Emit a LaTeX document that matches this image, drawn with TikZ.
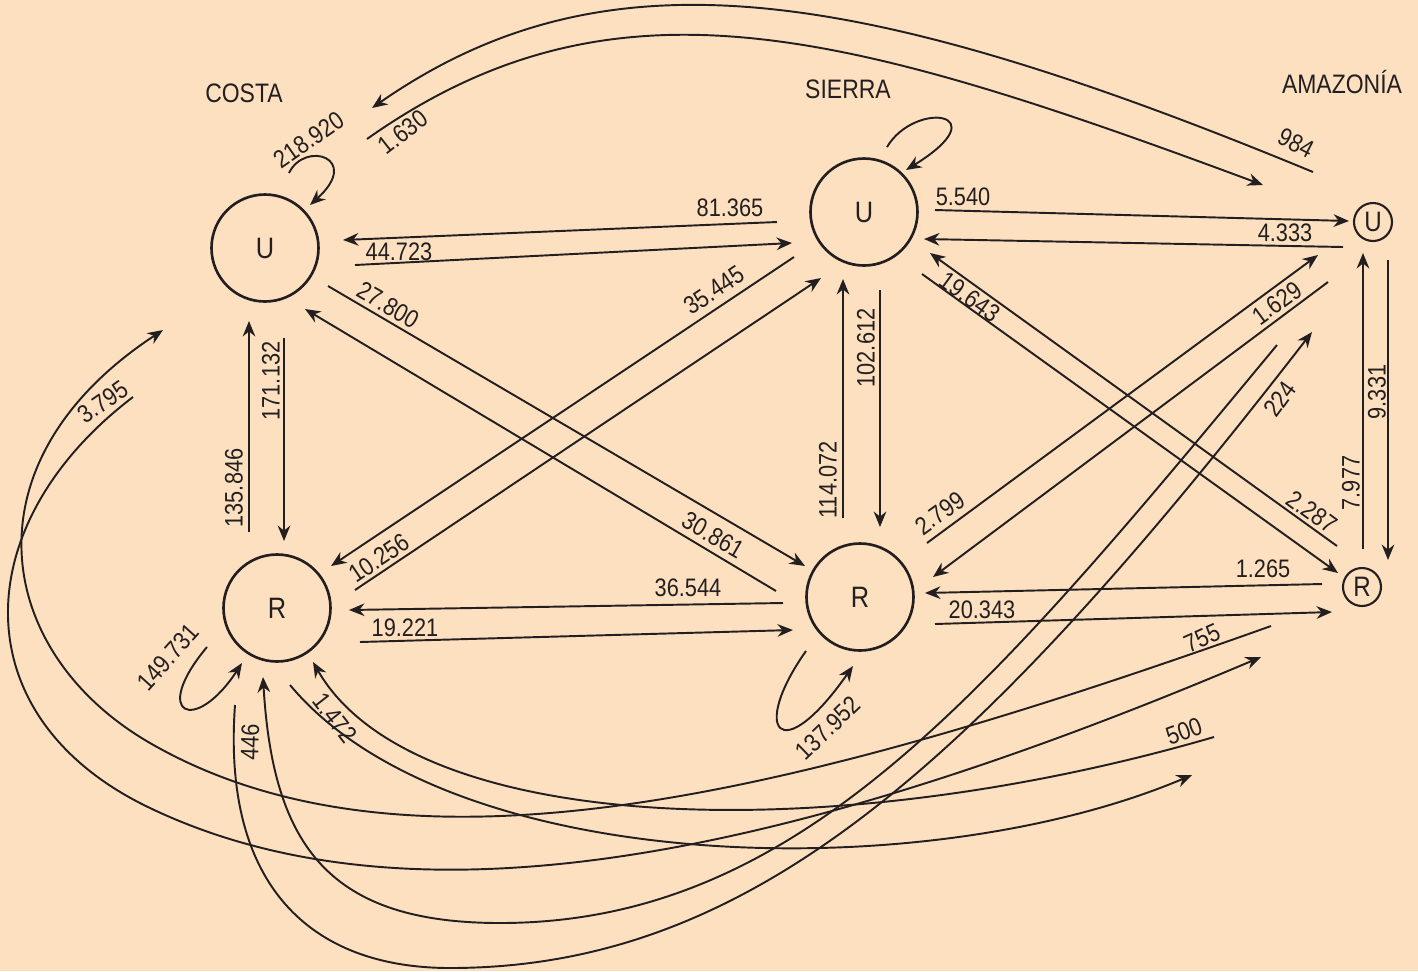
\documentclass[tikz,border=0pt]{standalone}
\usepackage{fontspec}
\setmainfont{Liberation Sans}[FakeStretch=0.86]
\usetikzlibrary{calc,arrows.meta}
\definecolor{paper}{RGB}{253,224,192}
\definecolor{ink}{RGB}{35,31,32}
\tikzset{
	zone/.style={circle, draw=ink, line width=0.75pt, minimum size=10.7mm, inner sep=0pt, text=ink, font=\fontsize{8.4}{9}\selectfont},
	smallzone/.style={circle, draw=ink, line width=0.6pt, minimum size=3.8mm, inner sep=0pt, text=ink, font=\fontsize{8}{9}\selectfont},
	flow/.style={draw=ink, line width=0.55pt, -{Stealth[length=4.4pt,width=3.6pt]}},
	num/.style={text=ink, inner sep=0pt, font=\fontsize{7.2}{8}\selectfont},
	region/.style={text=ink, inner sep=0pt, font=\fontsize{7.6}{9}\selectfont}
}

\begin{document}
\begin{tikzpicture}[x=0.1mm, y=-0.1mm]
			%%%%% START %%%%%
			\useasboundingbox (0,0) rectangle (1418,971);
			\fill[paper] (0,0) rectangle (1418,971);
			
			\node[region] (costa) at (244,93) {COSTA};
			\node[region] (sierra) at (848,89) {SIERRA};
			\node[region] (amazonia) at (1342,82) {AMAZONÍA};
			
			\node[zone] (cu) at (265,248) {U};
			\node[zone] (cr) at (277,608) {R};
			\node[zone] (su) at (864,212) {U};
			\node[zone] (sr) at (860,597) {R};
			\node[smallzone] (au) at (1373,222) {U};
			\node[smallzone] (ar) at (1362,587) {R};
			
			% costa - sierra
			\draw[flow] ($(su)+(-87,10)$) -- ($(cu)+(78,-8)$);
			\draw[flow] ($(cu)+(90,17)$) -- ($(su)+(-72,31)$);
			\draw[flow] ($(cu)+(19,90)$) -- ($(cr)+(7,-67)$);
			\draw[flow] ($(cr)+(-28,-76)$) -- ($(cu)+(-16,73)$);
			\draw[flow] ($(cu)+(63,38)$) -- ($(sr)+(-55,-31)$);
			\draw[flow] ($(sr)+(-84,-6)$) -- ($(cu)+(40,61)$);
			\draw[flow] ($(su)+(-70,45)$) -- ($(cr)+(54,-42)$);
			\draw[flow] ($(cr)+(78,-18)$) -- ($(su)+(-43,66)$);
			\draw[flow] ($(su)+(16,78)$) -- ($(sr)+(20,-70)$);
			\draw[flow] ($(sr)+(-17,-79)$) -- ($(su)+(-21,67)$);
			\draw[flow] ($(sr)+(-77,6)$) -- ($(cr)+(72,2)$);
			\draw[flow] ($(cr)+(83,34)$) -- ($(sr)+(-67,33)$);
			
			% loops
			\draw[flow] ($(cu)+(24,-75)$) .. controls ($(cu)+(40,-108)$) and ($(cu)+(97,-90)$) .. ($(cu)+(45,-43)$);
			\draw[flow] ($(cr)+(-70,39)$) .. controls ($(cr)+(-127,107)$) and ($(cr)+(-82,127)$) .. ($(cr)+(-35,55)$);
			\draw[flow] ($(su)+(23,-65)$) .. controls ($(su)+(51,-112)$) and ($(su)+(136,-100)$) .. ($(su)+(42,-42)$);
			\draw[flow] ($(sr)+(-54,54)$) .. controls ($(sr)+(-110,133)$) and ($(sr)+(-80,173)$) .. ($(sr)+(-7,69)$);
			
			% sierra - amazonia
			\draw[flow] ($(su)+(71,-2)$) -- ($(au)+(-24,-1)$);
			\draw[flow] ($(au)+(-30,25)$) -- ($(su)+(60,27)$);
			\draw[flow] ($(au)+(15,38)$) -- ($(ar)+(26,-27)$);
			\draw[flow] ($(ar)+(1,-38)$) -- ($(au)+(-10,31)$);
			\draw[flow] ($(ar)+(-25,-41)$) -- ($(su)+(66,41)$);
			\draw[flow] ($(su)+(58,62)$) -- ($(ar)+(-24,-14)$);
			\draw[flow] ($(sr)+(67,-54)$) -- ($(au)+(-55,33)$);
			\draw[flow] ($(au)+(-45,60)$) -- ($(sr)+(73,-20)$);
			\draw[flow] ($(ar)+(-40,-3)$) -- ($(sr)+(65,-4)$);
			\draw[flow] ($(sr)+(75,27)$) -- ($(ar)+(-30,25)$);
			
			% costa - amazonia
			\draw[flow] ($(au)+(-60,-50)$) .. controls (851,-19) and (602,-52) .. ($(cu)+(107,-140)$);
			\draw[flow] ($(cu)+(102,-109)$) .. controls (612,-34) and (841,28) .. ($(au)+(-110,-37)$);
			\draw[flow] ($(ar)+(-91,39)$) .. controls (800,794) and (410,893) .. (150,743)
				.. controls (-6,653) and (-38,462) .. ($(cu)+(-102,82)$);
			\draw[flow] ($(cu)+(-132,149)$) .. controls (-34,524) and (-39,718) .. (150,808)
				.. controls (420,937) and (801,852) .. ($(ar)+(-101,70)$);
			\draw[flow] ($(ar)+(-148,150)$) .. controls (830,849) and (413,836) .. ($(cr)+(36,54)$);
			\draw[flow] ($(cr)+(13,77)$) .. controls (450,877) and (925,888) .. ($(ar)+(-170,188)$);
			\draw[flow] ($(au)+(-96,123)$) .. controls (990,691) and (800,923) .. (500,923)
				.. controls (330,923) and (273,847) .. ($(cr)+(-14,69)$);
			\draw[flow] ($(cr)+(-42,97)$) .. controls (222,885) and (310,968) .. (450,968)
				.. controls (750,968) and (975,767) .. ($(au)+(-61,110)$);
			
			% numbers
			\node[num] (n81365) at (730,208) {81.365};
			\node[num] (n44723) at (399,252) {44.723};
			\node[num, rotate=90] (n171132) at (271,381) {171.132};
			\node[num, rotate=90] (n135846) at (234,488) {135.846};
			\node[num, rotate=-30] (n27800) at (388,305) {27.800};
			\node[num, rotate=-30] (n30861) at (713,535) {30.861};
			\node[num, rotate=34] (n35445) at (714,290) {35.445};
			\node[num, rotate=34] (n10256) at (379,558) {10.256};
			\node[num, rotate=90] (n102612) at (866,348) {102.612};
			\node[num, rotate=90] (n114072) at (828,480) {114.072};
			\node[num] (n36544) at (688,588) {36.544};
			\node[num] (n19221) at (405,628) {19.221};
			\node[num, rotate=44] (n137952) at (828,728) {137.952};
			\node[num, rotate=48] (n149731) at (168,657) {149.731};
			\node[num, rotate=35] (n218920) at (309,140) {218.920};
			\node[num] (n5540) at (963,197) {5.540};
			\node[num] (n4333) at (1285,233) {4.333};
			\node[num, rotate=90] (n9331) at (1377,392) {9.331};
			\node[num, rotate=90] (n7977) at (1351,483) {7.977};
			\node[num, rotate=-36] (n19643) at (970,297) {19.643};
			\node[num, rotate=-36] (n2287) at (1312,512) {2.287};
			\node[num, rotate=36] (n2799) at (940,513) {2.799};
			\node[num, rotate=36] (n1629) at (1277,303) {1.629};
			\node[num] (n1265) at (1263,569) {1.265};
			\node[num] (n20343) at (982,610) {20.343};
			\node[num, rotate=54] (n224) at (1280,399) {224};
			\node[num, rotate=88] (n446) at (250,742) {446};
			\node[num, rotate=-52] (n1472) at (335,718) {1.472};
			\node[num, rotate=35] (n3795) at (103,402) {3.795};
			\node[num, rotate=24] (n755) at (1202,638) {755};
			\node[num, rotate=20] (n500) at (1184,731) {500};
			\node[num, rotate=-27] (n984) at (1296,143) {984};
			\node[num, rotate=38] (n1630) at (403,132) {1.630};
			%%%%% END %%%%%
\end{tikzpicture}
\end{document}
